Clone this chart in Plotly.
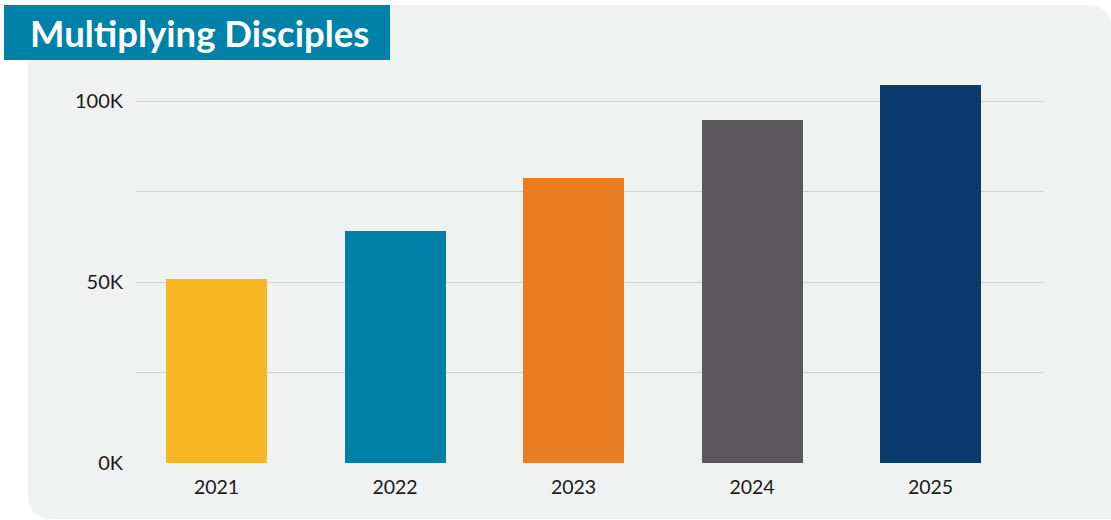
import plotly.graph_objects as go

years = ["2021", "2022", "2023", "2024", "2025"]
values = [50900, 64200, 78800, 94800, 104500]
colors = ["#f8b625", "#0080a7", "#e87d23", "#5a585b", "#0a3b6f"]
y_tickvals = [0, 50000, 100000]
y_ticktext = ["0K", "50K", "100K"]
title_text = "Multiplying Disciples"

W, H = 1111, 520
ML, MR, MT, MB = 136, 68, 83, 57
PW, PH = W - ML - MR, H - MT - MB

def px(x):
    return (x - ML) / PW

def py(y):
    return (H - MB - y) / PH

fig = go.Figure(go.Bar(
    x=years, y=values, marker=dict(color=colors, line=dict(width=0)),
    width=0.566, hoverinfo="skip",
))

# rounded panel
x0, x1, y0, y1, r = 28, 1112, 5, 519, 26
path = (f"M {px(x0)},{py(y0)} L {px(x1-r)},{py(y0)} "
        f"Q {px(x1)},{py(y0)} {px(x1)},{py(y0+r)} "
        f"L {px(x1)},{py(y1)} L {px(x0+r)},{py(y1)} "
        f"Q {px(x0)},{py(y1)} {px(x0)},{py(y1-r)} Z")
shapes = [
    dict(type="path", xref="paper", yref="paper", path=path,
         fillcolor="#f0f1f1", line=dict(width=0), layer="below"),
    dict(type="rect", xref="paper", yref="paper",
         x0=px(4), x1=px(390), y0=py(5), y1=py(60),
         fillcolor="#0081a7", line=dict(width=0), layer="below"),
]

fig.update_layout(
    width=W, height=H,
    margin=dict(l=ML, r=MR, t=MT, b=MB, pad=0),
    paper_bgcolor="white", plot_bgcolor="rgba(0,0,0,0)",
    showlegend=False, bargap=0,
    shapes=shapes,
    annotations=[dict(
        text=f"<b>{title_text}</b>", xref="paper", yref="paper",
        x=px(28), y=py(33), xanchor="left", yanchor="middle",
        showarrow=False, font=dict(family="Lato", size=36.5, color="white"),
    )],
    font=dict(family="Lato", size=19.5, color="#1a1a1a"),
    xaxis=dict(type="category", range=[-0.451, 4.63], showgrid=False,
               showline=False, zeroline=False, ticks="", fixedrange=True,
               ticklabelstandoff=10,
               tickfont=dict(size=19.5, color="#1a1a1a")),
    yaxis=dict(range=[0, 105000], tickvals=y_tickvals, ticktext=y_ticktext,
               showgrid=True, gridcolor="#d0d1d1", gridwidth=1.4,
               zeroline=False, showline=False, ticks="", ticklabelstandoff=12,
               fixedrange=True,
               minor=dict(tickvals=[25000, 75000], showgrid=True,
                          gridcolor="#d0d1d1", gridwidth=1.4),
               tickfont=dict(size=20, color="#1a1a1a")),
)

fig.write_html("out.html", config={"displayModeBar": False},
               post_script="document.body.style.margin='0';")
